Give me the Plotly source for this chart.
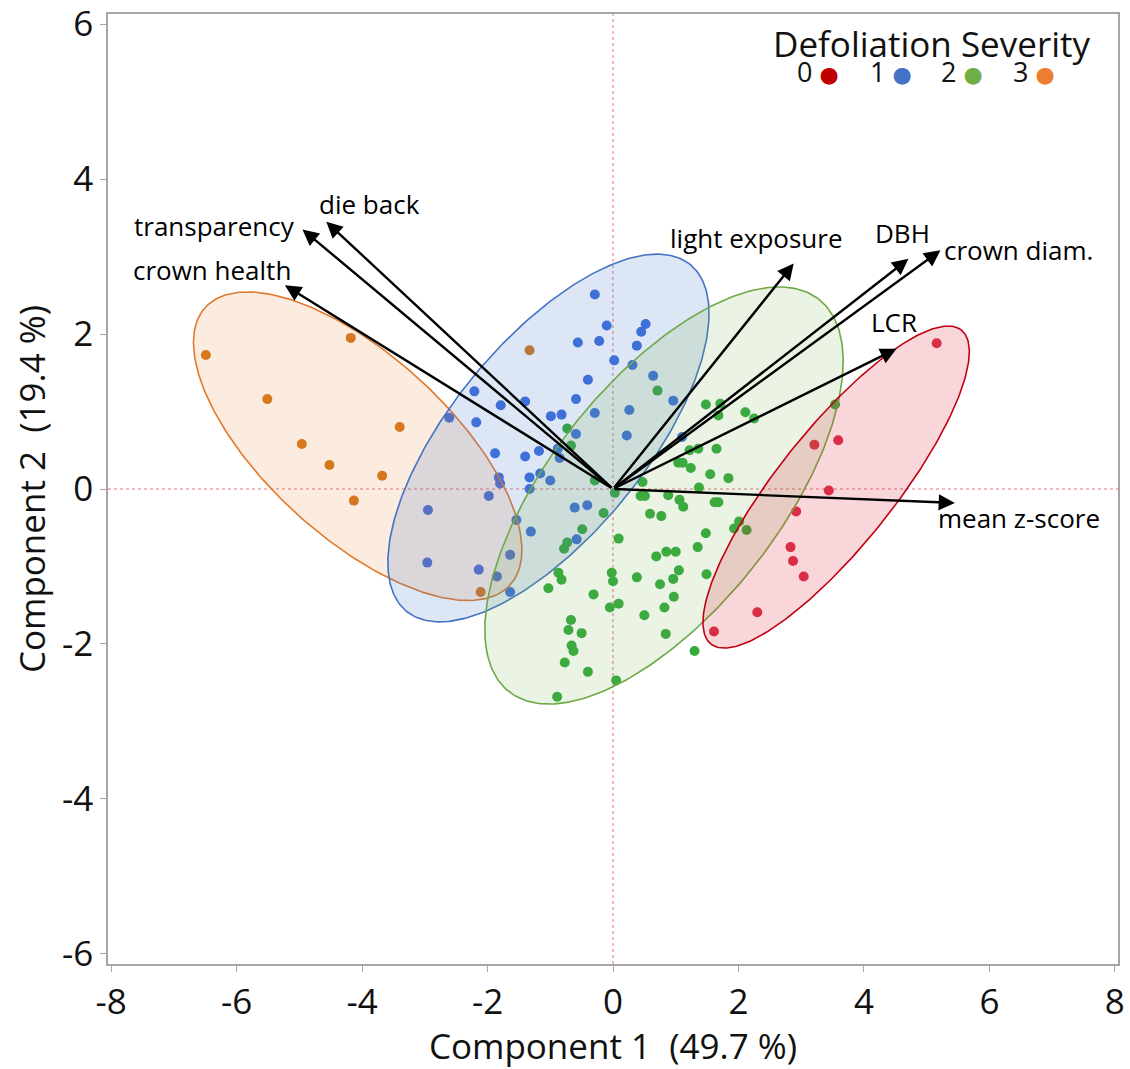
import numpy as np
import plotly.graph_objects as go

# ---------------- data ----------------
sev0_x = [5.16, 3.21, 3.59, 3.44, 2.92, 2.83, 2.87, 3.04, 2.30, 1.61]
sev0_y = [1.88, 0.57, 0.63, -0.02, -0.29, -0.75, -0.93, -1.13, -1.59, -1.84]

sev1_x = [-0.29, -0.10, 0.52, 0.45, -0.56, -0.22, 0.38, 0.02, 0.31, 0.64,
          -0.40, -0.59, 0.96, -2.21, -1.79, -1.40, -0.99, -0.82, -0.29, 0.26,
          -2.18, -2.61, 0.22, -0.59, -1.88, -1.40, -1.18, -0.88, -0.85, -1.82,
          -1.80, -1.33, -1.16, -1.00, -1.33, -1.98, -2.95, -0.61, -0.41, -1.54,
          -1.31, -0.58, -2.96, -2.14, -1.64, -1.85, -1.64, 1.10]
sev1_y = [2.51, 2.11, 2.13, 2.03, 1.89, 1.91, 1.85, 1.66, 1.60, 1.46,
          1.41, 1.16, 1.14, 1.26, 1.08, 1.13, 0.94, 0.96, 0.98, 1.02,
          0.86, 0.92, 0.69, 0.71, 0.46, 0.42, 0.49, 0.52, 0.40, 0.15,
          0.07, 0.15, 0.20, 0.11, 0.00, -0.09, -0.27, -0.24, -0.21, -0.40,
          -0.55, -0.65, -0.95, -1.04, -0.85, -1.13, -1.33, 0.67]

sev2_x = [0.71, -0.73, -0.67, 1.48, 1.71, 1.68, 2.11, 2.25, 1.22, 1.36,
          1.65, 1.04, 1.11, 1.24, 1.55, 1.84, -0.29, 0.47, 0.03, 0.44,
          0.51, 0.88, 1.37, 1.06, 1.12, 1.62, 1.68, -0.15, 0.59, 0.77,
          2.01, 1.93, 2.13, 1.48, -0.49, -0.73, -0.78, 0.09, 1.35, 0.69,
          0.85, 1.00, -0.87, -0.82, -0.02, 0.00, 0.38, 0.75, 0.96, 1.05,
          1.49, -1.03, -0.31, -0.05, 0.09, 0.50, 0.82, 0.97, -0.67, -0.71,
          -0.50, 0.84, -0.66, -0.63, 1.30, -0.77, -0.40, 0.05, -0.89, 3.54]
sev2_y = [1.27, 0.78, 0.56, 1.09, 1.10, 0.95, 0.99, 0.91, 0.50, 0.52,
          0.52, 0.34, 0.34, 0.27, 0.19, 0.14, 0.11, 0.09, -0.05, -0.09,
          -0.09, -0.08, 0.02, -0.14, -0.23, -0.17, -0.17, -0.31, -0.32, -0.35,
          -0.42, -0.51, -0.53, -0.57, -0.52, -0.69, -0.77, -0.64, -0.75, -0.87,
          -0.81, -0.81, -1.08, -1.17, -1.08, -1.19, -1.14, -1.23, -1.16, -1.05,
          -1.10, -1.28, -1.36, -1.53, -1.48, -1.63, -1.53, -1.39, -1.69, -1.82,
          -1.86, -1.87, -2.02, -2.09, -2.09, -2.24, -2.36, -2.47, -2.68, 1.09]

sev3_x = [-6.49, -4.18, -5.51, -3.40, -4.96, -4.52, -3.68, -4.13, -2.11, -1.33]
sev3_y = [1.73, 1.95, 1.16, 0.80, 0.58, 0.31, 0.17, -0.15, -1.33, 1.79]

# density ellipses: centre and the two semi-axis vectors (data units)
ell_cx = [3.557, -1.029, 0.813, -4.070]
ell_cy = [0.025, 0.658, -0.084, 0.552]
ell_ax = [1.997, 2.262, 2.471, 2.428]
ell_ay = [2.025, 2.237, 2.531, -1.792]
ell_bx = [0.721, 1.198, 1.432, 0.978]
ell_by = [-0.466, -0.792, -0.915, 0.868]

# loading vectors
load_names = ["crown health", "transparency", "die back", "light exposure",
              "DBH", "crown diam.", "LCR", "mean z-score"]
load_x = [-5.23, -4.95, -4.57, 2.88, 4.71, 5.22, 4.52, 5.45]
load_y = [2.63, 3.35, 3.45, 2.91, 2.97, 3.08, 1.81, -0.18]
label_x = [-6.40, -6.35, -3.88, 2.28, 4.61, 6.46, 4.48, 6.47]
label_y = [2.82, 3.39, 3.68, 3.24, 3.30, 3.08, 2.16, -0.37]

severity_levels = ["0", "1", "2", "3"]
legend_title = "Defoliation Severity"
x_ticks = [-8, -6, -4, -2, 0, 2, 4, 6, 8]
y_ticks = [-6, -4, -2, 0, 2, 4, 6]

# ---------------- styles ----------------
point_colors = ["#D8334A", "#3F6FDE", "#33AA3C", "#D4771F"]
line_colors = ["#C00010", "#4472C4", "#6DAA45", "#E07A2E"]
fill_colors = ["rgba(220,30,50,0.18)", "rgba(68,114,196,0.18)",
               "rgba(112,173,71,0.15)", "rgba(237,125,49,0.15)"]
legend_colors = ["#C00000", "#4472C4", "#70AD47", "#ED7D31"]

xs = [sev0_x, sev1_x, sev2_x, sev3_x]
ys = [sev0_y, sev1_y, sev2_y, sev3_y]

fig = go.Figure()

for i in range(4):
    fig.add_trace(go.Scatter(x=xs[i], y=ys[i], mode="markers",
                             marker=dict(size=10, color=point_colors[i]),
                             showlegend=False, hoverinfo="skip"))

t = np.linspace(0, 2 * np.pi, 300)
for i in [3, 1, 2, 0]:
    ex = ell_cx[i] + ell_ax[i] * np.cos(t) + ell_bx[i] * np.sin(t)
    ey = ell_cy[i] + ell_ay[i] * np.cos(t) + ell_by[i] * np.sin(t)
    fig.add_trace(go.Scatter(x=ex, y=ey, mode="lines", fill="toself",
                             fillcolor=fill_colors[i],
                             line=dict(color=line_colors[i], width=1.6),
                             showlegend=False, hoverinfo="skip"))

# zero reference lines
fig.add_vline(x=0, line=dict(color="#E8707A", width=1, dash="dot"), layer="below")
fig.add_hline(y=0, line=dict(color="#E8707A", width=1, dash="dot"), layer="below")

# loading arrows
for lx, ly in zip(load_x, load_y):
    fig.add_annotation(x=lx, y=ly, ax=0, ay=0, xref="x", yref="y",
                       axref="x", ayref="y", text="", showarrow=True,
                       arrowhead=2, arrowsize=1.35, arrowwidth=2.4,
                       arrowcolor="black", standoff=0)
for name, tx, ty in zip(load_names, label_x, label_y):
    fig.add_annotation(x=tx, y=ty, xref="x", yref="y", text=name,
                       showarrow=False, xanchor="center", yanchor="middle",
                       font=dict(family="Open Sans", size=26, color="black"))

# legend drawn as text
fig.add_annotation(x=0.816, y=0.969, xref="paper", yref="paper",
                   text=legend_title, showarrow=False,
                   xanchor="center", yanchor="middle",
                   font=dict(family="Open Sans", size=35, color="#111111"))
item_px = [0.703, 0.775, 0.846, 0.917]
for i, lab in enumerate(severity_levels):
    fig.add_annotation(
        x=item_px[i], y=0.939, xref="paper", yref="paper",
        text=(f"{lab} <span style='color:{legend_colors[i]};"
              f"font-family:DejaVu Sans;font-size:22px'>\u25CF</span>"),
        showarrow=False, xanchor="center", yanchor="middle",
        font=dict(family="Open Sans", size=27, color="#111111"))

axis_common = dict(showgrid=False, zeroline=False, showline=True, mirror=True,
                   linecolor="#A6A6A6", linewidth=1.5, ticks="outside",
                   ticklen=6, tickcolor="#A6A6A6", tickwidth=1.2,
                   ticklabeloverflow="allow",
                   tickfont=dict(family="Open Sans", size=35, color="#111111"))

fig.update_layout(
    width=1130, height=1069,
    margin=dict(l=108, r=12, t=14, b=105),
    paper_bgcolor="white", plot_bgcolor="white",
    font=dict(family="Open Sans", color="#111111"),
    xaxis=dict(range=[-8.05, 8.05], tickvals=x_ticks,
               ticktext=[str(v) for v in x_ticks],
               title=dict(text="Component 1\u00a0\u00a0(49.7\u00a0%)",
                          font=dict(family="Open Sans", size=35), standoff=4),
               automargin=False, **axis_common),
    yaxis=dict(range=[-6.13, 6.13], tickvals=y_ticks,
               ticktext=[str(v) for v in y_ticks],
               title=dict(text="Component 2\u00a0\u00a0(19.4\u00a0%)",
                          font=dict(family="Open Sans", size=35), standoff=6),
               automargin=False, **axis_common),
)

fig.write_html("out.html")
